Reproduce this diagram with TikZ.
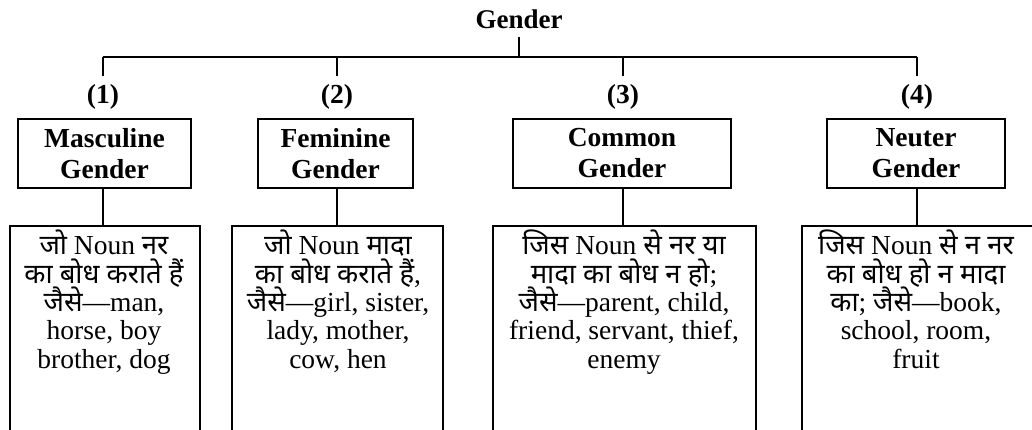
\documentclass[tikz,border=0pt]{standalone}
\usepackage{fontspec}
\setmainfont{Liberation Serif}
\newfontfamily\hifont[Script=Devanagari]{Noto Sans}
\newcommand{\hd}[1]{{\hifont #1}}
\newcommand{\tightlines}{\lineskiplimit -30pt\relax}
\begin{document}
\begin{tikzpicture}[x=1pt,y=1pt,
  line/.style={line width=1.6pt},
  titlebox/.style={font=\fontsize{27}{30}\selectfont\bfseries, inner sep=0pt},
  numlbl/.style={font=\fontsize{27.5}{30}\selectfont\bfseries, inner sep=0pt, minimum height=42pt},
  headbox/.style={draw, line width=1.6pt, font=\fontsize{27.5}{31}\selectfont\bfseries, align=center, inner sep=0pt, minimum height=69pt},
  bodybox/.style={draw, line width=1.6pt, anchor=north, minimum height=260pt, inner sep=0pt},
  bodytext/.style={font=\fontsize{27.5}{28.3}\selectfont\tightlines, align=center, anchor=north, inner sep=0pt}
]
\useasboundingbox (0,0) rectangle (1032,-430);
\clip (0,0) rectangle (1032,-430);

% title
\node[titlebox, anchor=base] (title) at (519,-29) {Gender};
\coordinate (d1) at (103,-57);
\coordinate (d2) at (337,-57);
\coordinate (d3) at (623,-57);
\coordinate (d4) at (917,-57);
\draw[line, shorten <=8pt] (title.south) -- (title.south |- d1);
\draw[line] (d1) -- (d4);

% numbers
\node[numlbl] (n1) at (103,-97) {(1)};
\node[numlbl] (n2) at (337,-97) {(2)};
\node[numlbl] (n3) at (623,-97) {(3)};
\node[numlbl] (n4) at (917,-97) {(4)};
\foreach \i in {1,2,3,4} \draw[line] (d\i) -- (n\i.north);

% header boxes
\node[headbox, minimum width=173pt] (h1) at (104.5,-153.5) {Masculine\\Gender};
\node[headbox, minimum width=155pt] (h2) at (335.5,-153.5) {Feminine\\Gender};
\node[headbox, minimum width=218pt] (h3) at (622,-153.5) {Common\\Gender};
\node[headbox, minimum width=178pt] (h4) at (916,-153.5) {Neuter\\Gender};

% body boxes (open at the bottom, cut by the page edge)
\node[bodybox, minimum width=190pt] (b1) at (105,-225) {};
\node[bodybox, minimum width=211pt] (b2) at (337.5,-225) {};
\node[bodybox, minimum width=263pt] (b3) at (624.5,-225) {};
\node[bodybox, minimum width=250pt] (b4) at (927,-225) {};

\draw[line] (h1.south -| 103,0) -- (b1.north -| 103,0);
\draw[line] (h2.south -| 337,0) -- (b2.north -| 337,0);
\draw[line] (h3.south -| 623,0) -- (b3.north -| 623,0);
\draw[line] (h4.south -| 917,0) -- (b4.north -| 917,0);

% body texts
\node[bodytext] (t1) at (104,-230) {\hd{जो} Noun \hd{नर}\\ \hd{का बोध कराते हैं}\\ \hd{जैसे}—man,\\ horse, boy\\ brother, dog};
\node[bodytext] (t2) at (338,-230) {\hd{जो} Noun \hd{मादा}\\ \hd{का बोध कराते हैं},\\ \hd{जैसे}—girl, sister,\\ lady, mother,\\ cow, hen};
\node[bodytext] (t3) at (624,-230) {\hd{जिस} Noun \hd{से नर या}\\ \hd{मादा का बोध न हो};\\ \hd{जैसे}—parent, child,\\ friend, servant, thief,\\ enemy};
\node[bodytext] (t4) at (916,-230) {\hd{जिस} Noun \hd{से न नर}\\ \hd{का बोध हो न मादा}\\ \hd{का}; \hd{जैसे}—book,\\ school, room,\\ fruit};
\end{tikzpicture}
\end{document}
